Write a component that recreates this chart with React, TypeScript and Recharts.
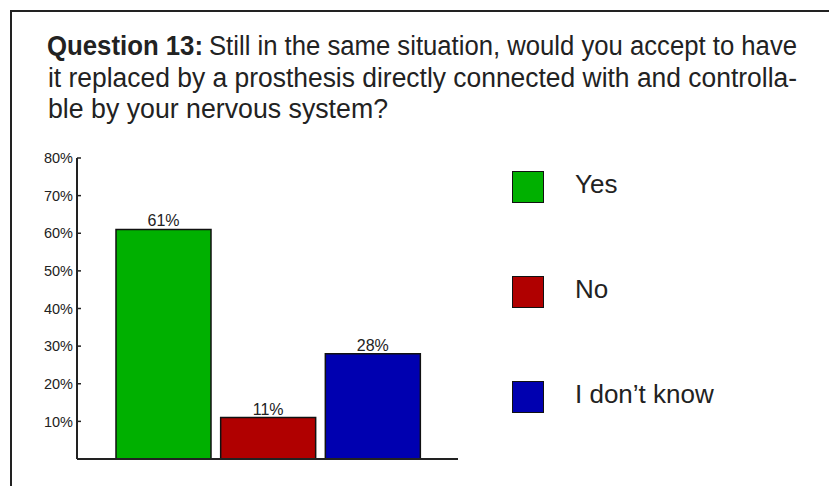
import React from 'react';
import { BarChart, Bar, XAxis, YAxis, Cell, LabelList } from 'recharts';

const categories = ['Yes', 'No', 'I don\u2019t know'];
const values = [61, 11, 28];
const colors = ['#00b000', '#b00000', '#0000b0'];
const yTicks = [10, 20, 30, 40, 50, 60, 70, 80];
const titleBold = 'Question 13:';
const titleLines = [
  'Still in the same situation, would you accept to have',
  'it replaced by a prosthesis directly connected with and controlla-',
  'ble by your nervous system?',
];

const data = categories.map((name, i) => ({ name, value: values[i] }));

const FONT = '"Liberation Sans", Arial, Helvetica, sans-serif';
const INK = '#222222';

export default function App() {
  return (
    <div
      style={{
        position: 'fixed',
        left: 0,
        top: 0,
        width: 829,
        height: 486,
        background: '#ffffff',
        overflow: 'hidden',
        fontFamily: FONT,
      }}
    >
      <div
        style={{
          position: 'absolute',
          left: 10,
          top: 10,
          width: 900,
          height: 600,
          borderLeft: `2.5px solid ${INK}`,
          borderTop: `2.5px solid ${INK}`,
        }}
      />
      <div style={{ position: 'absolute', left: 0, top: 0 }}>
        <BarChart
          width={829}
          height={486}
          data={data}
          margin={{ top: 158, right: 371, bottom: 17, left: 17 }}
        >
          <XAxis
            dataKey="name"
            tick={false}
            tickLine={false}
            height={10}
            axisLine={{ stroke: INK, strokeWidth: 2 }}
            padding={{ left: 34, right: 33 }}
          />
          <YAxis
            width={60}
            domain={[0, 80]}
            ticks={yTicks}
            interval={0}
            tickFormatter={(v: number) => `${v}%`}
            tickSize={-4}
            tickMargin={8}
            tick={{ fill: INK, fontSize: 14.5, fontFamily: FONT }}
            axisLine={{ stroke: INK, strokeWidth: 2 }}
            tickLine={{ stroke: INK, strokeWidth: 1.5 }}
          />
          <Bar dataKey="value" barSize={95} stroke="#111" strokeWidth={1.5} isAnimationActive={false}>
            {data.map((d, i) => (
              <Cell key={d.name} fill={colors[i]} />
            ))}
            <LabelList
              dataKey="value"
              position="top"
              offset={3}
              formatter={(v: number) => `${v}%`}
              style={{ fill: INK, fontSize: 16, fontFamily: FONT }}
            />
          </Bar>
        </BarChart>
      </div>
      <svg
        width={829}
        height={140}
        style={{ position: 'absolute', left: 0, top: 0 }}
        fontFamily={FONT}
        fill={INK}
      >
        <text x={47} y={55} fontSize={27} fontWeight="bold" textLength={156} lengthAdjust="spacingAndGlyphs">
          {titleBold}
        </text>
        <text x={209} y={55} fontSize={27} textLength={588} lengthAdjust="spacingAndGlyphs">
          {titleLines[0]}
        </text>
        <text x={48} y={87} fontSize={27} textLength={749} lengthAdjust="spacingAndGlyphs">
          {titleLines[1]}
        </text>
        <text x={48} y={118} fontSize={27} textLength={340} lengthAdjust="spacingAndGlyphs">
          {titleLines[2]}
        </text>
      </svg>
      <div style={{ position: 'absolute', left: 512, top: 171 }}>
        {categories.map((c, i) => (
          <div key={c} style={{ position: 'relative', height: 33, marginBottom: i < categories.length - 1 ? 72 : 0 }}>
            <div
              style={{
                position: 'absolute',
                left: 0,
                top: 0,
                width: 30,
                height: 30,
                background: colors[i],
                border: '1.5px solid #111',
              }}
            />
            <div
              style={{
                position: 'absolute',
                left: 63,
                top: 0,
                fontSize: 26,
                lineHeight: '26px',
                color: INK,
                whiteSpace: 'nowrap',
              }}
            >
              {c}
            </div>
          </div>
        ))}
      </div>
    </div>
  );
}
